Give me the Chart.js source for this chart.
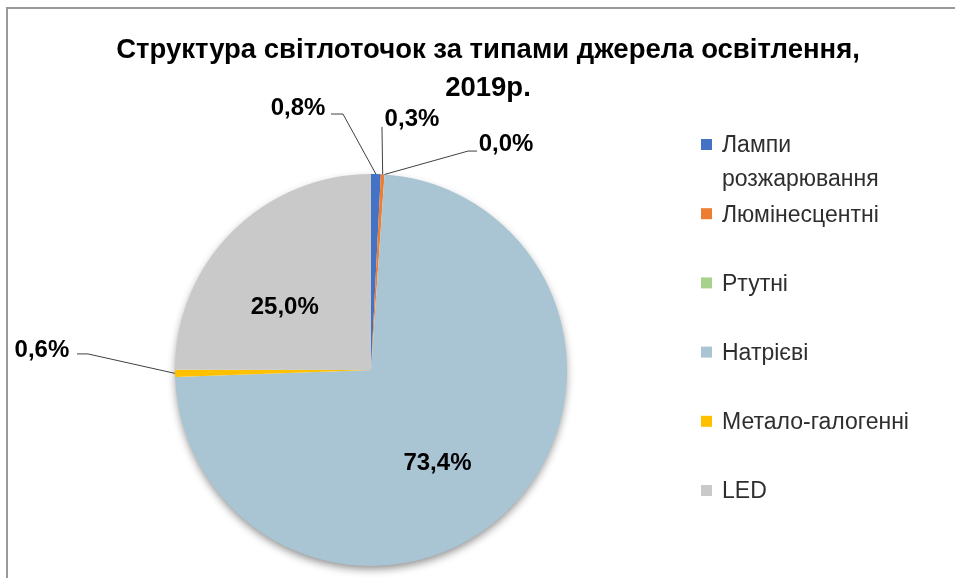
<!DOCTYPE html>
<html>
<head>
<meta charset="utf-8">
<script src="https://cdn.jsdelivr.net/npm/chart.js@4.4.1/dist/chart.umd.min.js"></script>
<style>
  html, body { margin: 0; padding: 0; background: #fff; }
  #wrap { width: 955px; height: 578px; position: relative; }
</style>
</head>
<body>
<div id="wrap"><canvas id="lampChart"></canvas></div>
<script>
// Chart data
const titleLines = ['Структура світлоточок за типами джерела освітлення,', '2019р.'];
const categories = [['Лампи', 'розжарювання'], 'Люмінесцентні', 'Ртутні', 'Натрієві', 'Метало-галогенні', 'LED'];
const shares = [0.8, 0.3, 0.0, 73.4, 0.6, 25.0];
const sliceColors = ['#4472C4', '#ED7D31', '#A9D18E', '#A9C5D3', '#FFC000', '#C9C9C9'];

// Where each data label sits, relative to pie centre, in units of the radius
//   lead = leader line points from the label towards the slice edge
const labelPlacement = [
    {x: -0.372, y: -1.342, lead: [[-0.204, -1.306], [-0.143, -1.306]]},
    {x: 0.209, y: -1.286, lead: [[0.056, -1.240]]},
    {x: 0.689, y: -1.158, lead: [[0.541, -1.117], [0.495, -1.117]]},
    {x: 0.339, y: 0.469},
    {x: -1.679, y: -0.107, lead: [[-1.500, -0.082], [-1.444, -0.082]]},
    {x: -0.440, y: -0.323}
];

const FONT = "'Liberation Sans', Arial, sans-serif";

function fmtPct(v) {
    return v.toFixed(1).replace('.', ',') + '%';
}

// Frame, title, legend, labels and leader lines
const decorPlugin = {
    id: 'decor',
    beforeDatasetsDraw(chart) {
        // soft shadow under the whole pie
        const arc = chart.getDatasetMeta(0).data[0];
        const ctx = chart.ctx;
        ctx.save();
        ctx.shadowColor = 'rgba(0,0,0,0.45)';
        ctx.shadowBlur = 9;
        ctx.shadowOffsetY = 4;
        ctx.fillStyle = '#fff';
        ctx.beginPath();
        ctx.arc(arc.x, arc.y, arc.outerRadius - 1, 0, Math.PI * 2);
        ctx.fill();
        ctx.restore();
    },
    afterDraw(chart) {
        const ctx = chart.ctx;
        ctx.save();

        // chart frame (only top and left edges are inside the picture)
        ctx.strokeStyle = '#999';
        ctx.lineWidth = 2;
        ctx.strokeRect(7, 8, 1000, 700);

        // title
        ctx.fillStyle = '#000';
        ctx.font = 'bold 27.5px ' + FONT;
        ctx.textAlign = 'center';
        ctx.textBaseline = 'middle';
        titleLines.forEach((t, i) => ctx.fillText(t, 488, 50 + i * 38));

        // legend
        ctx.font = '23px ' + FONT;
        ctx.textAlign = 'left';
        categories.forEach((lab, i) => {
            const y = 145 + i * 69.2;
            ctx.fillStyle = sliceColors[i];
            ctx.fillRect(701, y - 6, 11, 11);
            ctx.fillStyle = '#2e2e2e';
            const lines = Array.isArray(lab) ? lab : [lab];
            lines.forEach((ln, j) => ctx.fillText(ln, 722, y + 1 + j * 34));
        });

        // data labels
        const meta = chart.getDatasetMeta(0);
        ctx.font = 'bold 24px ' + FONT;
        ctx.textAlign = 'center';
        meta.data.forEach((arc, i) => {
            const p = labelPlacement[i];
            const r = arc.outerRadius;
            if (p.lead) {
                const mid = (arc.startAngle + arc.endAngle) / 2;
                ctx.strokeStyle = '#404040';
                ctx.lineWidth = 1;
                ctx.beginPath();
                p.lead.forEach((pt, k) => {
                    const px = arc.x + pt[0] * r, py = arc.y + pt[1] * r;
                    if (k === 0) ctx.moveTo(px, py); else ctx.lineTo(px, py);
                });
                ctx.lineTo(arc.x + Math.cos(mid) * r, arc.y + Math.sin(mid) * r);
                ctx.stroke();
            }
            ctx.fillStyle = '#000';
            ctx.fillText(fmtPct(shares[i]), arc.x + p.x * r, arc.y + p.y * r + 1);
        });

        ctx.restore();
    }
};

new Chart('lampChart', {
    type: 'pie',
    data: {
        labels: categories,
        datasets: [{
            data: shares,
            backgroundColor: sliceColors,
            borderWidth: 0,
        }]
    },
    options: {
        responsive: true,
        maintainAspectRatio: false,
        animation: false,
        layout: {padding: {top: 174, bottom: 12, left: 20, right: 233}},
        plugins: {
            legend: {display: false},
            title: {display: false},
            tooltip: {enabled: false}
        }
    },
    plugins: [decorPlugin]
});
</script>
</body>
</html>
